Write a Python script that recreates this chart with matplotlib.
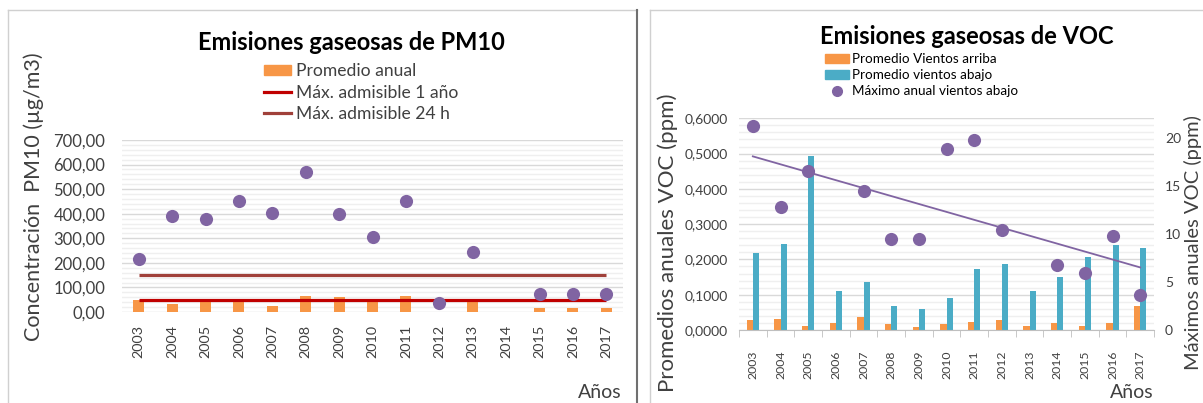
import numpy as np
import matplotlib
matplotlib.use("Agg")
import matplotlib.pyplot as plt
from matplotlib.lines import Line2D
from matplotlib.patches import Patch
from matplotlib.ticker import MultipleLocator, FuncFormatter

plt.rcParams['font.family'] = ['Lato', 'DejaVu Sans']

# ---- data ----
years = ['2003', '2004', '2005', '2006', '2007', '2008', '2009', '2010',
         '2011', '2012', '2013', '2014', '2015', '2016', '2017']

# PM10 (µg/m3)
pm10_promedio = [50, 31, 48, 48, 26, 66, 61, 48, 66, np.nan, 48, np.nan, 18, 18, 18]
pm10_maximo = [214, 391, 378, 453, 402, 570, 400, 306, 453, 38, 243, np.nan, 73, 73, 75]
pm10_limite_anual = 50
pm10_limite_24h = 150

# VOC (ppm)
voc_arriba = [0.029, 0.031, 0.011, 0.019, 0.037, 0.016, 0.009, 0.016,
              0.024, 0.027, 0.011, 0.019, 0.011, 0.019, 0.069]
voc_abajo = [0.217, 0.243, 0.493, 0.110, 0.136, 0.069, 0.059, 0.090,
             0.173, 0.186, 0.110, 0.149, 0.207, 0.241, 0.233]
voc_maximo = [21.28, 12.83, 16.59, np.nan, 14.47, 9.49, 9.49, 18.88,
              19.82, 10.43, np.nan, 6.78, 5.91, 9.84, 3.65]

ORANGE = '#F79646'
BLUE = '#4BACC6'
PURPLE = '#8064A2'
RED = '#C00000'
BROWN = '#A0403A'
GRID = '#D9D9D9'
MINOR = '#EFEFEF'
TXT = '#404040'

W, H = 1203, 403
fig = plt.figure(figsize=(W / 100, H / 100), dpi=100)


def fx(px):
    return px / W


def fy(py):
    return 1 - py / H


def comma(fmt):
    return FuncFormatter(lambda v, p: (fmt % v).replace('.', ','))


# panel borders
fig.add_artist(Line2D([fx(8), fx(8)], [fy(10), 0], color='#D0D0D0', lw=1))
fig.add_artist(Line2D([fx(8), fx(637)], [fy(10), fy(10)], color='#D0D0D0', lw=1))
fig.add_artist(Line2D([fx(637), fx(637)], [fy(10), 0], color='#707070', lw=1.5))
fig.add_artist(Line2D([fx(650), fx(650)], [fy(10), 0], color='#D0D0D0', lw=1))
fig.add_artist(Line2D([fx(650), 1], [fy(10), fy(10)], color='#D0D0D0', lw=1))

x = np.arange(len(years))

# ================= PM10 =================
ax1 = fig.add_axes([fx(122), fy(312), 501 / W, 172 / H])
ax1.bar(x, pm10_promedio, width=0.33, color=ORANGE, zorder=2)
ax1.hlines(pm10_limite_24h, x[0], x[-1], color=BROWN, lw=2.3, zorder=3)
ax1.hlines(pm10_limite_anual, x[0], x[-1], color=RED, lw=2.3, zorder=3)
ax1.scatter(x, pm10_maximo, s=90, color=PURPLE, zorder=4, linewidths=0)
ax1.set_xlim(-0.5, len(years) - 0.5)
ax1.set_ylim(0, 700)
ax1.yaxis.set_major_locator(MultipleLocator(100))
ax1.yaxis.set_minor_locator(MultipleLocator(20))
ax1.yaxis.set_major_formatter(comma('%.2f'))
ax1.grid(axis='y', which='major', color=GRID, lw=1, zorder=0)
ax1.grid(axis='y', which='minor', color=MINOR, lw=1, zorder=0)
ax1.set_axisbelow(True)
ax1.set_xticks(x)
ax1.set_xticklabels(years, rotation=90)
for s in ax1.spines.values():
    s.set_visible(False)
ax1.tick_params(axis='y', which='both', length=0, colors=TXT, labelsize=12, pad=12)
ax1.tick_params(axis='x', which='both', length=0, colors=TXT, labelsize=10.4, pad=9)

fig.text(fx(351), fy(42), 'Emisiones gaseosas de PM10', ha='center', va='center',
         fontsize=17, fontweight='bold', color='black')
fig.text(fx(34), fy(197), 'Concentración  PM10 (µg/m3)', rotation=90,
         ha='center', va='center', fontsize=15.5, color=TXT)
fig.text(fx(622), fy(392), 'Años', ha='right', va='center', fontsize=14, color=TXT)

leg1_handles = [Patch(color=ORANGE),
                Line2D([], [], color=RED, lw=2.3),
                Line2D([], [], color=BROWN, lw=2.3)]
leg1_labels = ['Promedio anual', 'Máx. admisible 1 año', 'Máx. admisible 24 h']
fig.legend(leg1_handles, leg1_labels, loc='upper left',
           bbox_to_anchor=(fx(264), fy(63)), frameon=False, fontsize=12.6,
           borderpad=0, borderaxespad=0, handlelength=1.55, handleheight=0.55,
           handletextpad=0.25, labelspacing=0.32, labelcolor=TXT)

# ================= VOC =================
ax2 = fig.add_axes([fx(739), fy(330), 415 / W, 211.7 / H])
bw = 0.22
ax2.bar(x - bw / 2, voc_arriba, width=bw, color=ORANGE, zorder=2)
ax2.bar(x + bw / 2, voc_abajo, width=bw, color=BLUE, zorder=2)
ax2.set_xlim(-0.5, len(years) - 0.5)
ax2.set_ylim(0, 0.6)
ax2.yaxis.set_major_locator(MultipleLocator(0.1))
ax2.yaxis.set_minor_locator(MultipleLocator(0.02))
ax2.yaxis.set_major_formatter(comma('%.4f'))
ax2.grid(axis='y', which='major', color=GRID, lw=1, zorder=0)
ax2.grid(axis='y', which='minor', color=MINOR, lw=1, zorder=0)
ax2.set_axisbelow(True)
ax2.set_xticks(x)
ax2.set_xticklabels(years, rotation=90)
ax2.set_xticks(np.arange(-0.5, len(years)), minor=True)
for s in ax2.spines.values():
    s.set_visible(False)
ax2.spines['bottom'].set_visible(True)
ax2.spines['bottom'].set_color('#BFBFBF')
ax2.tick_params(axis='y', which='major', length=0, colors=TXT, labelsize=10, pad=8)
ax2.tick_params(axis='x', which='major', length=0, colors=TXT, labelsize=8.8, pad=15)
ax2.tick_params(axis='x', which='minor', length=5, color='#BFBFBF')
ax2.tick_params(axis='y', which='minor', length=0)

ax3 = ax2.twinx()
ax3.scatter(x, voc_maximo, s=90, color=PURPLE, zorder=4, linewidths=0)
ok = ~np.isnan(np.array(voc_maximo))
coef = np.polyfit(x[ok], np.array(voc_maximo)[ok], 1)
ax3.plot(x, np.polyval(coef, x), color=PURPLE, lw=1.3, zorder=3)
ax3.set_ylim(0, 22.1)
ax3.set_yticks([0, 5, 10, 15, 20])
for s in ax3.spines.values():
    s.set_visible(False)
ax3.tick_params(axis='y', length=0, colors=TXT, labelsize=10, pad=8)

fig.text(fx(967), fy(37), 'Emisiones gaseosas de VOC', ha='center', va='center',
         fontsize=17, fontweight='bold', color='black')
fig.text(fx(668), fy(243), 'Promedios anuales VOC (ppm)', rotation=90,
         ha='center', va='center', fontsize=16, color=TXT)
fig.text(fx(1193), fy(243), 'Máximos anuales VOC (ppm)', rotation=90,
         ha='center', va='center', fontsize=14.5, color=TXT)
fig.text(fx(1154), fy(392), 'Años', ha='right', va='center', fontsize=14, color=TXT)

leg2_handles = [Patch(color=ORANGE), Patch(color=BLUE),
                Line2D([], [], ls='none', marker='o', ms=7, color=PURPLE)]
leg2_labels = ['Promedio Vientos arriba', 'Promedio vientos abajo',
               'Máximo anual vientos abajo']
fig.legend(leg2_handles, leg2_labels, loc='upper left',
           bbox_to_anchor=(fx(825), fy(53)), frameon=False, fontsize=9.7,
           borderpad=0, borderaxespad=0, handlelength=1.75, handleheight=0.6,
           handletextpad=0.25, labelspacing=0.3, labelcolor='black')

fig.savefig('out.png', dpi=100)
